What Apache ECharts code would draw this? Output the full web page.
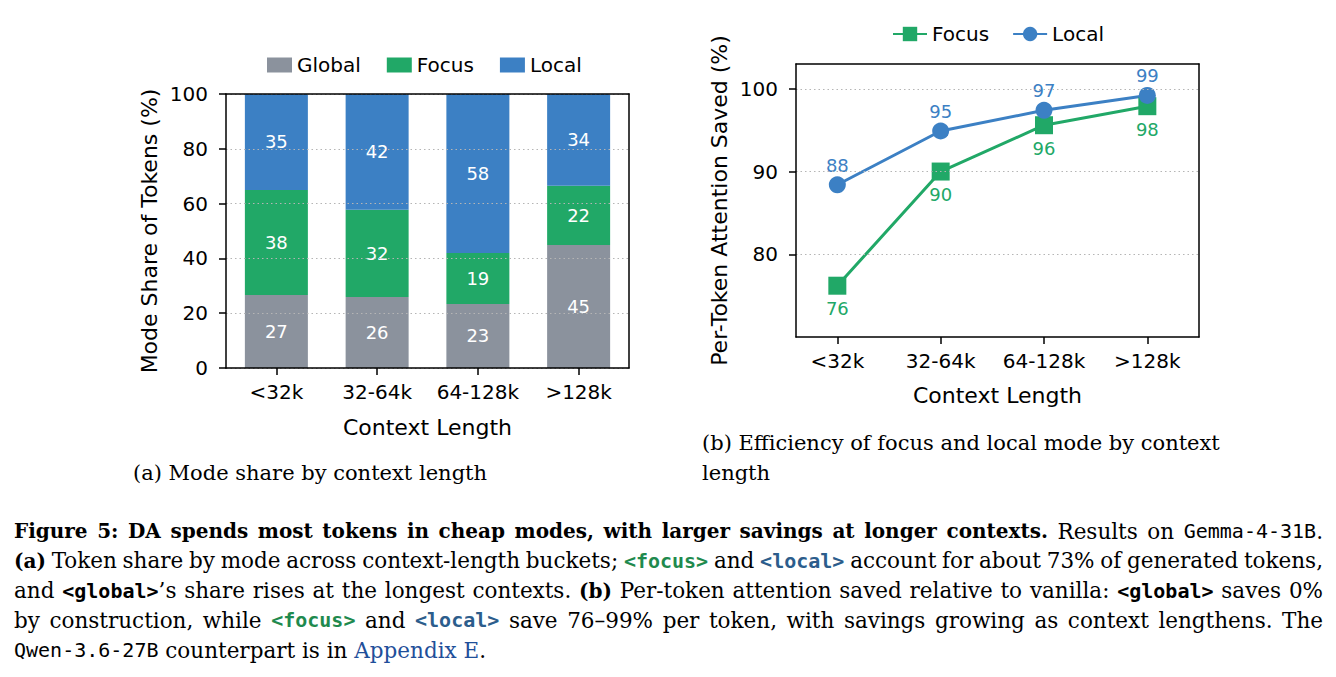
<!DOCTYPE html>
<html lang="en">
<head>
    <meta charset="utf-8">
    <title>Figure 5</title>
    <script src="https://cdn.jsdelivr.net/npm/echarts@6/dist/echarts.min.js"></script>
    <style>
        html,
        body,
        #main {
            width: 100%;
            height: 100%;
            margin: 0;
            padding: 0;
            overflow: hidden;
            background-color: #ffffff;
        }
    </style>
</head>
<body>
<div id="main"></div>
<script>
    // 数据
    var contextLengths = ['<32k', '32-64k', '64-128k', '>128k'];
    // (a) mode share of tokens (%)
    var shareGlobal = [26.6, 25.9, 23.4, 44.9];
    var shareFocus = [38.4, 31.9, 18.6, 21.6];
    var shareLocal = [35.0, 42.2, 58.0, 33.5];
    // (b) per-token attention saved (%)
    var savedFocus = [76.2, 90.0, 95.6, 97.9];
    var savedLocal = [88.4, 94.9, 97.4, 99.2];
    var savedTicks = [80, 90, 100];
    var contextIdx = [0, 1, 2, 3];

    var GRAY = '#8b929d', GREEN = '#21a867', BLUE = '#3c80c4';
    var SANS = 'DejaVu Sans';
    var SERIF = 'DejaVu Serif';
    var MONO = 'DejaVu Sans Mono';

    var tickStyle = {show: true, length: 7, lineStyle: {color: '#000', width: 1.5}};
    var lineStyle = {show: true, onZero: false, lineStyle: {color: '#000', width: 1.5}};
    var gridLine = {show: true, lineStyle: {color: '#b5b5b5', width: 1, type: [1.5, 3]}};
    var nameText = {fontFamily: SANS, fontSize: 22, color: '#000'};

    function pairs(ys) {
        return ys.map(function (v, i) { return [contextIdx[i], v]; });
    }

    // 边框（上、右），画在柱子上面
    function frameAxis(extra) {
        return Object.assign({
            z: 5, axisLine: lineStyle, axisTick: {show: false},
            axisLabel: {show: false}, splitLine: {show: false}
        }, extra);
    }

    // 图注文字
    var capStyles = {
        b: {fontFamily: SERIF, fontSize: 20, fontWeight: 'bold', fill: '#000'},
        r: {fontFamily: SERIF, fontSize: 21.5, fill: '#000'},
        m: {fontFamily: MONO, fontSize: 20, fill: '#000'},
        mk: {fontFamily: MONO, fontSize: 20, fontWeight: 'bold', fill: '#000'},
        mg: {fontFamily: MONO, fontSize: 20, fontWeight: 'bold', fill: '#1f8a4e'},
        mb: {fontFamily: MONO, fontSize: 20, fontWeight: 'bold', fill: '#2c5d8c'},
        lk: {fontFamily: SERIF, fontSize: 21.5, fill: '#1f4f9a'}
    };
    var capLines = [
        [['b', 'Figure 5: DA spends most tokens in cheap modes, with larger savings at longer contexts.'], ['r', ' Results on '], ['m', 'Gemma-4-31B'], ['r', '.']],
        [['b', '(a)'], ['r', ' Token share by mode across context-length buckets; '], ['mg', '<focus>'], ['r', ' and '], ['mb', '<local>'], ['r', ' account for about 73% of generated tokens,']],
        [['r', 'and '], ['mk', '<global>'], ['r', '\u2019s share rises at the longest contexts. '], ['b', '(b)'], ['r', ' Per-token attention saved relative to vanilla: '], ['mk', '<global>'], ['r', ' saves 0%']],
        [['r', 'by construction, while '], ['mg', '<focus>'], ['r', ' and '], ['mb', '<local>'], ['r', ' save 76\u201399% per token, with savings growing as context lengthens. The']],
        [['m', 'Qwen-3.6-27B'], ['r', ' counterpart is in '], ['lk', 'Appendix E'], ['r', '.']]
    ];
    var CAP_X = 14, CAP_W = 1309, CAP_Y = 531, CAP_DY = 29.8;

    var ctx = document.createElement('canvas').getContext('2d');
    function textWidth(st, s, k) {
        ctx.font = (st.fontWeight || 'normal') + ' ' + (st.fontSize * k) + 'px "' + st.fontFamily + '"';
        return ctx.measureText(s).width;
    }

    // 两端对齐：词间距用固定宽度的 rich 片段
    function captionLine(segs, y, justify) {
        var words = [[]];
        segs.forEach(function (s) {
            s[1].split(' ').forEach(function (p, k) {
                if (k > 0) words.push([]);
                if (p) words[words.length - 1].push([s[0], p]);
            });
        });
        words = words.filter(function (w) { return w.length; });
        var total = 0;
        words.forEach(function (w) {
            w.forEach(function (pc) { total += textWidth(capStyles[pc[0]], pc[1], 1); });
        });
        var spaceW = textWidth(capStyles.r, ' ', 1);
        var k = Math.min(1, (CAP_W - (words.length - 1) * spaceW * 0.8) / total);
        var gap = justify ? (CAP_W - total * k) / (words.length - 1) : spaceW;
        var rich = {g: {width: gap, fontFamily: SERIF, fontSize: 21 * k}};
        Object.keys(capStyles).forEach(function (key) {
            rich[key] = Object.assign({}, capStyles[key], {fontSize: capStyles[key].fontSize * k});
        });
        var text = words.map(function (w) {
            return w.map(function (pc) { return '{' + pc[0] + '|' + pc[1] + '}'; }).join('');
        }).join('{g| }');
        return {type: 'text', x: CAP_X, y: y, style: {text: text, rich: rich, verticalAlign: 'middle'}};
    }

    var subCap = {fontFamily: SERIF, fontSize: 21, fill: '#000', verticalAlign: 'middle'};
    var graphics = [
        {type: 'text', x: 133, y: 473, style: Object.assign({text: '(a) Mode share by context length'}, subCap)},
        {type: 'text', x: 702, y: 443, style: Object.assign({text: '(b) Efficiency of focus and local mode by context'}, subCap)},
        {type: 'text', x: 702, y: 473, style: Object.assign({text: 'length'}, subCap)}
    ];
    capLines.forEach(function (segs, i) {
        graphics.push(captionLine(segs, CAP_Y + i * CAP_DY, i < capLines.length - 1));
    });

    var myChart = echarts.init(document.getElementById('main'), null, {renderer: 'svg'});
    var option = {
        animation: false,
        textStyle: {fontFamily: SANS},
        legend: [
            {
                data: ['Global', 'Focus', 'Local'],
                left: 262, top: 50,
                icon: 'rect', itemWidth: 25, itemHeight: 15, itemGap: 26,
                textStyle: {fontFamily: SANS, fontSize: 20, color: '#000'}
            },
            {
                data: ['Focus (b)', 'Local (b)'],
                left: 887, top: 19,
                itemWidth: 34, itemHeight: 18, itemGap: 23,
                formatter: function (n) { return n.replace(' (b)', ''); },
                textStyle: {fontFamily: SANS, fontSize: 20, color: '#000'}
            }
        ],
        grid: [
            {left: 226, top: 94, width: 403, height: 274},
            {left: 796, top: 64, width: 403, height: 273}
        ],
        xAxis: [
            {
                type: 'category', gridIndex: 0, data: contextLengths, z: 5,
                name: 'Context Length', nameLocation: 'middle', nameGap: 48, nameTextStyle: nameText,
                axisLine: lineStyle, axisTick: {show: true, alignWithLabel: true, length: 7, lineStyle: {color: '#000', width: 1.5}},
                axisLabel: {interval: 0, fontFamily: SANS, fontSize: 20, color: '#000', margin: 14},
                splitLine: {show: false}
            },
            {
                type: 'value', gridIndex: 1, min: -0.4, max: 3.5, z: 5,
                name: 'Context Length', nameLocation: 'middle', nameGap: 47, nameTextStyle: nameText,
                axisLine: lineStyle,
                axisTick: {show: true, length: 7, customValues: contextIdx, lineStyle: {color: '#000', width: 1.5}},
                axisLabel: {
                    fontFamily: SANS, fontSize: 20, color: '#000', margin: 14, customValues: contextIdx,
                    formatter: function (v) { return contextLengths[Math.round(v)]; }
                },
                splitLine: {show: false}
            },
            frameAxis({type: 'category', gridIndex: 0, position: 'top', data: contextLengths}),
            frameAxis({type: 'value', gridIndex: 1, position: 'top', min: -0.4, max: 3.5})
        ],
        yAxis: [
            {
                type: 'value', gridIndex: 0, min: 0, max: 100, interval: 20, z: 5,
                name: 'Mode Share of Tokens (%)', nameLocation: 'middle', nameGap: 66, nameTextStyle: nameText,
                axisLine: lineStyle, axisTick: tickStyle,
                axisLabel: {fontFamily: SANS, fontSize: 20, color: '#000', margin: 18},
                splitLine: gridLine
            },
            {
                type: 'value', gridIndex: 1, min: 70, max: 103, z: 5,
                name: 'Per-Token Attention Saved (%)', nameLocation: 'middle', nameGap: 66, nameTextStyle: nameText,
                axisLine: lineStyle,
                axisTick: {show: true, length: 7, customValues: savedTicks, lineStyle: {color: '#000', width: 1.5}},
                axisLabel: {fontFamily: SANS, fontSize: 20, color: '#000', margin: 18, customValues: savedTicks},
                splitLine: gridLine
            },
            frameAxis({type: 'value', gridIndex: 0, position: 'right', min: 0, max: 100}),
            frameAxis({type: 'value', gridIndex: 1, position: 'right', min: 70, max: 103})
        ],
        series: [
            {
                name: 'Global', type: 'bar', stack: 'share', xAxisIndex: 0, yAxisIndex: 0, barWidth: 63,
                itemStyle: {color: GRAY}, data: shareGlobal,
                label: {show: true, color: '#fff', fontFamily: SANS, fontSize: 18, formatter: function (p) { return Math.round(p.value); }}
            },
            {
                name: 'Focus', type: 'bar', stack: 'share', xAxisIndex: 0, yAxisIndex: 0, barWidth: 63,
                itemStyle: {color: GREEN}, data: shareFocus,
                label: {show: true, color: '#fff', fontFamily: SANS, fontSize: 18, formatter: function (p) { return Math.round(p.value); }}
            },
            {
                name: 'Local', type: 'bar', stack: 'share', xAxisIndex: 0, yAxisIndex: 0, barWidth: 63,
                itemStyle: {color: BLUE}, data: shareLocal,
                label: {show: true, color: '#fff', fontFamily: SANS, fontSize: 18, formatter: function (p) { return Math.round(p.value); }}
            },
            {
                name: 'Focus (b)', type: 'line', xAxisIndex: 1, yAxisIndex: 1,
                symbol: 'rect', symbolSize: 18,
                lineStyle: {color: GREEN, width: 3}, itemStyle: {color: GREEN},
                data: pairs(savedFocus),
                label: {show: true, position: 'bottom', distance: 5, color: GREEN, fontFamily: SANS, fontSize: 18,
                    formatter: function (p) { return Math.round(p.value[1]); }}
            },
            {
                name: 'Local (b)', type: 'line', xAxisIndex: 1, yAxisIndex: 1,
                symbol: 'circle', symbolSize: 17,
                lineStyle: {color: BLUE, width: 3}, itemStyle: {color: BLUE},
                data: pairs(savedLocal),
                label: {show: true, position: 'top', distance: 2, color: BLUE, fontFamily: SANS, fontSize: 18,
                    formatter: function (p) { return Math.round(p.value[1]); }}
            }
        ],
        graphic: graphics
    };
    myChart.setOption(option);
</script>
</body>
</html>
